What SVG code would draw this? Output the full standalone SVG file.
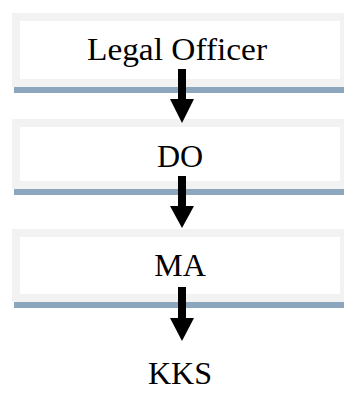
<svg xmlns="http://www.w3.org/2000/svg" width="344" height="401" viewBox="0 0 344 401">
<style>
.outer{fill:#f2f2f2}
.inner{fill:#ffffff}
.bar{fill:#8ca6bd}
.lbl{font-family:"Liberation Serif","Times New Roman",serif;font-size:32px;fill:#000;text-anchor:middle}
.arr{fill:#000}
</style>
<rect width="344" height="401" fill="#ffffff"/>
<g id="node-legal-officer">
<rect class="outer" x="12" y="13" width="332" height="74"/>
<rect class="inner" x="20" y="21" width="320" height="58"/>
<rect class="bar" x="14" y="87" width="330" height="6"/>
<text class="lbl" x="177" y="60" textLength="180" lengthAdjust="spacingAndGlyphs">Legal Officer</text>
</g>
<g id="node-do">
<rect class="outer" x="12" y="119" width="332" height="70"/>
<rect class="inner" x="20" y="127" width="320" height="54"/>
<rect class="bar" x="14" y="189" width="330" height="6"/>
<text class="lbl" x="180" y="167">DO</text>
</g>
<g id="node-ma">
<rect class="outer" x="12" y="229" width="332" height="73"/>
<rect class="inner" x="20" y="237" width="320" height="57"/>
<rect class="bar" x="14" y="302" width="330" height="6"/>
<text class="lbl" x="180" y="276">MA</text>
</g>
<g id="node-kks">
<text class="lbl" x="180" y="384">KKS</text>
</g>
<g id="connectors">
<polygon class="arr" points="178,69 186,69 186,99 194,99 182,123 170,99 178,99"/>
<polygon class="arr" points="178,176 186,176 186,206 194,206 182,228 170,206 178,206"/>
<polygon class="arr" points="178,287 186,287 186,318 194,318 182,341 170,318 178,318"/>
</g>
</svg>
